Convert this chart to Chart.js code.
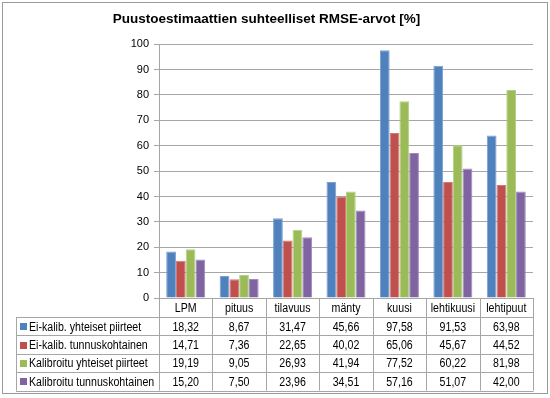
<!DOCTYPE html>
<html lang="fi">
<head>
  <meta charset="UTF-8">
  <title>Puustoestimaattien suhteelliset RMSE-arvot</title>
  <script src="https://cdn.jsdelivr.net/npm/chart.js"></script>
  <style>
    body { margin: 0; background: #fff; }
    #wrap { width: 550px; height: 398px; }
  </style>
</head>
<body>
  <div id="wrap"><canvas id="kaavio" width="550" height="398"></canvas></div>
  <script>
    const kategoriat = ['LPM', 'pituus', 'tilavuus', 'mänty', 'kuusi', 'lehtikuusi', 'lehtipuut'];
    const sarjaNimet = ['Ei-kalib. yhteiset piirteet', 'Ei-kalib. tunnuskohtainen', 'Kalibroitu yhteiset piirteet', 'Kalibroitu tunnuskohtainen'];
    const eiKalibYhteiset = [18.32, 8.67, 31.47, 45.66, 97.58, 91.53, 63.98];
    const eiKalibTunnus = [14.71, 7.36, 22.65, 40.02, 65.06, 45.67, 44.52];
    const kalibYhteiset = [19.19, 9.05, 26.93, 41.94, 77.52, 60.22, 81.98];
    const kalibTunnus = [15.20, 7.50, 23.96, 34.51, 57.16, 51.07, 42.00];
    const yTicks = [0, 10, 20, 30, 40, 50, 60, 70, 80, 90, 100];

    const sarjat = [eiKalibYhteiset, eiKalibTunnus, kalibYhteiset, kalibTunnus];
    const varit = ['#4f81bd', '#c0504d', '#9bbb59', '#8064a2'];
    const reunat = ['#7a9fd0', '#d27a78', '#b5d07f', '#a08bc0'];
    const fontti = 'Arial, "Liberation Sans", sans-serif';

    // kapeampi teksti kuten alkuperäisessä
    function teksti(ctx, t, x, y) {
      const w = ctx.measureText(t).width * 0.85;
      ctx.fillText(t, x, y, w);
    }

    // taulukko kaavion alle + ulkoreuna
    const taulukko = {
      id: 'taulukko',
      afterDraw(chart) {
        const ctx = chart.ctx;
        const a = chart.chartArea;
        const x = chart.scales.x;
        const lev = (a.right - a.left) / kategoriat.length;
        const vasen = 16;
        const otsRivi = 19, rivi = 18.4;
        const yla = a.bottom;
        const ala = yla + otsRivi + rivi * sarjat.length;

        ctx.save();
        ctx.strokeStyle = '#a6a6a6';
        ctx.lineWidth = 1;
        ctx.beginPath();
        for (let i = 0; i <= kategoriat.length; i++) {
          const px = Math.round(a.left + i * lev) + 0.5;
          ctx.moveTo(px, yla);
          ctx.lineTo(px, ala);
        }
        ctx.moveTo(vasen + 0.5, yla + otsRivi);
        ctx.lineTo(vasen + 0.5, ala);
        for (let r = 0; r <= sarjat.length; r++) {
          const py = Math.round(yla + otsRivi + r * rivi) + 0.5;
          ctx.moveTo(vasen, py);
          ctx.lineTo(a.right + 0.5, py);
        }
        ctx.stroke();

        ctx.fillStyle = '#000';
        ctx.font = '12.5px ' + fontti;
        ctx.textBaseline = 'middle';
        ctx.textAlign = 'center';
        kategoriat.forEach((k, i) => {
          teksti(ctx, k, x.getPixelForValue(i), yla + otsRivi / 2 + 1);
        });
        sarjat.forEach((s, r) => {
          const cy = yla + otsRivi + r * rivi + rivi / 2 + 1;
          ctx.textAlign = 'center';
          s.forEach((v, i) => {
            teksti(ctx, v.toFixed(2).replace('.', ','), x.getPixelForValue(i), cy);
          });
          ctx.fillStyle = varit[r];
          ctx.fillRect(vasen + 4, Math.round(cy - 4), 7, 7);
          ctx.fillStyle = '#000';
          ctx.textAlign = 'left';
          teksti(ctx, sarjaNimet[r], vasen + 13, cy);
        });

        ctx.strokeStyle = '#9a9a9a';
        ctx.strokeRect(2.5, 2.5, 545, 391);
        ctx.restore();
      }
    };

    new Chart(document.getElementById('kaavio'), {
      type: 'bar',
      data: {
        labels: kategoriat,
        datasets: sarjat.map((s, i) => ({
          label: sarjaNimet[i],
          data: s,
          backgroundColor: varit[i],
          borderColor: reunat[i],
          borderWidth: 1,
          categoryPercentage: 0.73,
          barPercentage: 1.0
        }))
      },
      options: {
        responsive: false,
        animation: false,
        layout: { padding: { top: 0, right: 17, bottom: 100, left: 0 } },
        plugins: {
          legend: { display: false },
          tooltip: { enabled: false },
          title: {
            display: true,
            text: 'Puustoestimaattien suhteelliset RMSE-arvot [%]',
            color: '#000',
            font: { family: fontti, size: 13.5, weight: 'bold' },
            padding: { top: 11, bottom: 17 }
          }
        },
        scales: {
          x: { display: false },
          y: {
            min: 0,
            max: 100,
            afterFit(scale) { scale.width = 159; },
            afterBuildTicks(scale) { scale.ticks = yTicks.map(v => ({ value: v })); },
            ticks: { color: '#000', font: { family: fontti, size: 11 }, padding: 5 },
            grid: { color: '#a6a6a6', tickLength: 5, drawTicks: true },
            border: { color: '#a6a6a6' }
          }
        }
      },
      plugins: [taulukko]
    });
  </script>
</body>
</html>
